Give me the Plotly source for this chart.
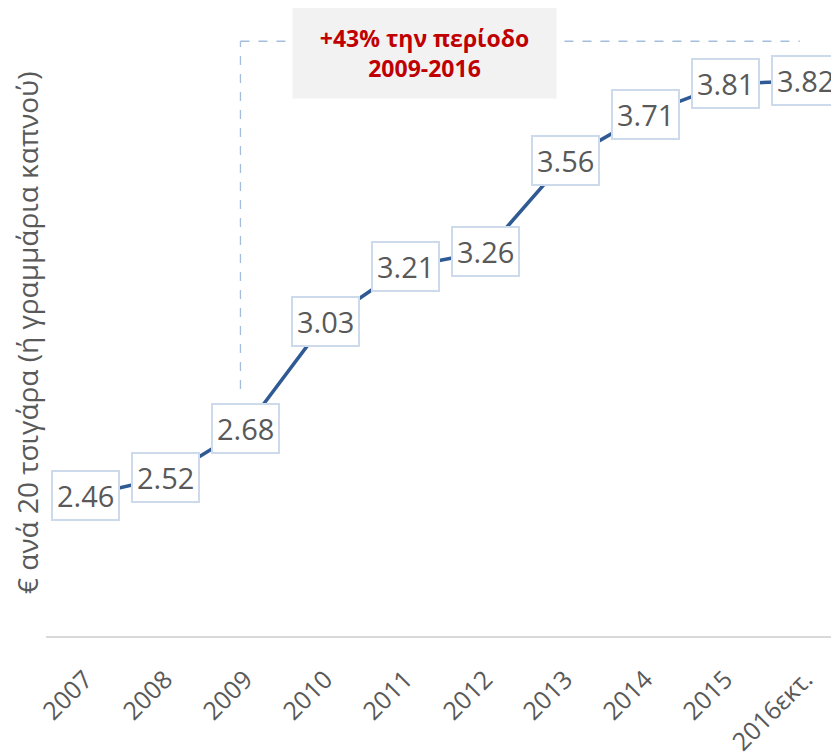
import plotly.graph_objects as go

years = ["2007", "2008", "2009", "2010", "2011", "2012", "2013", "2014", "2015", "2016εκτ."]
prices = [2.46, 2.52, 2.68, 3.03, 3.21, 3.26, 3.56, 3.71, 3.81, 3.82]
y_title = "€ ανά 20 τσιγάρα (ή γραμμάρια καπνού)"
note = "+43% την περίοδο<br>2009-2016"

idx = list(range(len(years)))

fig = go.Figure()

fig.add_trace(go.Scatter(
    x=idx, y=prices, mode="lines",
    line=dict(color="#2F5A94", width=3.5),
    hoverinfo="y", showlegend=False,
))

# value labels in boxes
for i, v in zip(idx, prices):
    fig.add_annotation(
        x=i, y=v, xref="x", yref="y", text=f"{v:.2f}", showarrow=False,
        font=dict(family="Open Sans", size=29, color="#595959"),
        bgcolor="white", bordercolor="#CCDAEC", borderwidth=2, borderpad=4,
    )

# dashed bracket 2009 -> 2016
dash = dict(color="#A4BDDD", width=1.3, dash="dash")
fig.add_shape(type="line", xref="x", yref="y", x0=1.94, x1=1.94, y0=2.81, y1=3.95, line=dash, layer="below")
fig.add_shape(type="line", xref="x", yref="y", x0=1.94, x1=8.93, y0=3.95, y1=3.95, line=dash, layer="below")

fig.add_annotation(
    x=4.24, y=3.91, xref="x", yref="y", text=note, showarrow=False,
    font=dict(family="Open Sans", size=23, color="#C00000", weight="bold"),
    bgcolor="#F2F2F2", borderpad=0, width=263, height=90, align="center",
)

# y axis title
fig.add_annotation(
    x=0, y=0.5, xref="paper", yref="paper", text=y_title, showarrow=False,
    textangle=-90, xanchor="center", yanchor="middle", xshift=-19, yshift=-2,
    font=dict(family="Open Sans", size=28, color="#595959"),
)

fig.update_layout(
    width=839, height=755,
    margin=dict(l=38, r=8, t=18, b=127),
    plot_bgcolor="white", paper_bgcolor="white",
    xaxis=dict(
        range=[-0.49, 9.42], automargin=False,
        tickvals=idx, ticktext=years,
        showgrid=False, showline=True, linecolor="#D9D9D9", linewidth=1.5,
        zeroline=False, ticks="", tickangle=-45, ticklabelstandoff=17,
        tickfont=dict(family="Open Sans", size=25, color="#595959"),
    ),
    yaxis=dict(
        range=[2.0, 4.0], showgrid=False, showticklabels=False, zeroline=False,
        automargin=False,
    ),
)

fig.write_html("out.html")
